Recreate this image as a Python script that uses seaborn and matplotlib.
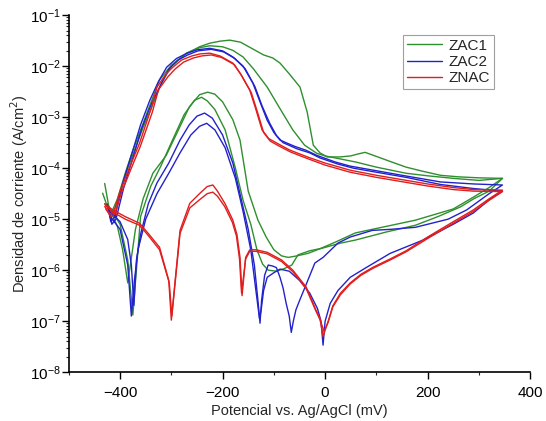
import numpy as np
import pandas as pd
import matplotlib
matplotlib.use("Agg")
import matplotlib.pyplot as plt
from matplotlib.ticker import FixedLocator, LogLocator, MultipleLocator, NullFormatter
import seaborn as sns

# potential (mV vs Ag/AgCl) and log10 current density (A/cm2)
# ZAC1, run A
zac1_a_E = [-434, -425, -418, -405, -390, -375, -362, -345, -323, -300, -270, -245, -225, -205, -186, -165,
            -147, -120, -102, -88, -70, -49, -35, -23, -10, 4, 29, 50, 65, 78, 100, 130, 158, 190, 225, 260, 300, 346,
            320, 289, 250, 176, 120, 59, 20, -10, -33, -55, -72, -85, -100, -115, -131, -150, -166, -180, -200, -215,
            -229, -245, -265, -289, -310, -336, -355, -370, -385, -395, -405, -418, -430]
zac1_a_logi = [-4.49, -4.75, -4.9, -4.6, -4.1, -3.65, -3.31, -2.85, -2.27, -1.98, -1.75, -1.62, -1.55, -1.51, -1.49, -1.53,
               -1.63, -1.78, -1.84, -1.94, -2.15, -2.41, -2.9, -3.55, -3.7, -3.78, -3.78, -3.76, -3.72, -3.69, -3.77, -3.88, -3.98, -4.06, -4.14, -4.17, -4.19, -4.2,
               -4.38, -4.57, -4.8, -5.02, -5.14, -5.27, -5.45, -5.58, -5.67, -5.72, -5.75, -5.72, -5.6, -5.35, -5.02, -4.45, -3.45, -3.05, -2.7, -2.55,
               -2.51, -2.56, -2.8, -3.31, -3.75, -4.1, -4.6, -5.2, -6.25, -5.6, -5.15, -4.85, -4.7]

# ZAC1, run B
zac1_b_E = [-430, -422, -415, -400, -385, -370, -355, -340, -320, -300, -270, -245, -225, -200, -180, -160, -140,
            -113, -90, -63, -40, -16, 0, 30, 60, 100, 158, 200, 250, 300, 346,
            320, 290, 264, 220, 176, 120, 59, 30, -6, -30, -53, -65, -80, -95, -111, -122, -133, -145, -160, -175,
            -195, -215, -230, -241, -255, -275, -300, -320, -340, -360, -375, -385, -400, -415, -425]
zac1_b_logi = [-4.3, -4.75, -4.95, -4.5, -4.0, -3.6, -3.2, -2.85, -2.35, -2.0, -1.74, -1.64, -1.6, -1.62, -1.69, -1.82, -2.05,
               -2.41, -2.8, -3.25, -3.55, -3.71, -3.76, -3.82, -3.88, -3.98, -4.1, -4.15, -4.2, -4.24, -4.2,
               -4.45, -4.6, -4.76, -4.95, -5.12, -5.25, -5.41, -5.47, -5.57, -5.62, -5.7, -5.9, -5.97, -6.02, -6.0, -5.88, -5.6, -5.1, -4.63, -4.0,
               -3.25, -2.85, -2.68, -2.61, -2.67, -2.95, -3.5, -3.95, -4.35, -4.95, -6.88, -5.8, -5.1, -4.85, -4.75]

# ZAC2, run A
zac2_a_E = [-425, -418, -410, -395, -375, -360, -342, -325, -309, -290, -270, -250, -225, -200, -180, -160, -141,
            -127, -113, -100, -88, -60, -37, -16, 20, 49, 94, 150, 225, 290, 346,
            320, 276, 240, 176, 127, 92, 49, 25, -4, -20, -39, -50, -57, -62, -66, -70, -76, -82, -88, -95, -102,
            -111, -118, -124, -127, -131, -138, -150, -165, -180, -200, -220, -235, -250, -265, -283, -305, -328,
            -345, -360, -368, -373, -378, -385, -400, -415, -422]
zac2_a_logi = [-4.7, -5.05, -4.95, -4.3, -3.65, -3.15, -2.67, -2.3, -2.02, -1.85, -1.75, -1.68, -1.65, -1.7, -1.82, -2.0, -2.33,
               -2.7, -3.06, -3.3, -3.45, -3.57, -3.65, -3.75, -3.88, -3.96, -4.04, -4.14, -4.27, -4.31, -4.33,
               -4.5, -4.82, -5.0, -5.16, -5.2, -5.22, -5.35, -5.47, -5.75, -5.86, -6.33, -6.6, -6.78, -7.0, -7.22, -6.9, -6.65, -6.35, -6.14, -5.95, -5.92,
               -5.9, -6.1, -6.6, -7.04, -6.6, -5.9, -5.2, -4.55, -3.9, -3.35, -3.02, -2.92, -2.98, -3.15, -3.45, -3.9, -4.29,
               -4.7, -5.3, -5.8, -6.69, -5.9, -5.4, -5.05, -4.9, -4.85]

# ZAC2, run B
zac2_b_E = [-422, -416, -408, -392, -372, -357, -338, -320, -305, -287, -268, -248, -222, -198, -176, -156, -137,
            -123, -108, -95, -82, -55, -30, -10, 25, 55, 100, 158, 225, 290, 346,
            320, 289, 250, 191, 127, 80, 49, 25, 10, 0, -4, -8, -15, -30, -50, -70, -88, -100, -113, -120, -125,
            -128, -135, -145, -160, -175, -195, -215, -231, -245, -262, -283, -305, -328, -350, -365, -372, -378,
            -385, -400, -415, -420]
zac2_b_logi = [-4.75, -5.1, -5.0, -4.35, -3.7, -3.2, -2.72, -2.35, -2.06, -1.88, -1.78, -1.7, -1.67, -1.72, -1.85, -2.05, -2.4,
               -2.78, -3.12, -3.36, -3.5, -3.62, -3.7, -3.8, -3.92, -4.0, -4.08, -4.18, -4.32, -4.4, -4.45,
               -4.62, -4.88, -5.1, -5.41, -5.67, -5.95, -6.14, -6.4, -6.65, -7.0, -7.47, -7.0, -6.75, -6.45, -6.2, -6.02, -5.98, -6.05, -6.14, -6.4, -6.8,
               -6.95, -6.4, -5.6, -4.85, -4.2, -3.6, -3.25, -3.12, -3.18, -3.35, -3.7, -4.1, -4.5, -5.0, -5.6, -6.2, -6.9,
               -5.9, -5.2, -5.0, -4.95]

# ZNAC, run A
znac_a_E = [-430, -420, -412, -400, -380, -362, -340, -328, -310, -297, -280, -260, -244, -225, -205, -180, -165,
            -147, -135, -123, -110, -94, -70, -50, -29, 0, 49, 100, 147, 200, 250, 289, 346,
            320, 289, 250, 200, 158, 127, 94, 70, 49, 30, 15, 6, -4, -10, -18, -37, -63, -85, -113, -135, -147, -155,
            -162, -166, -172, -180, -195, -210, -219, -230, -245, -264, -283, -300, -305, -323, -345, -362, -390,
            -414, -430]
znac_a_logi = [-4.75, -4.9, -4.85, -4.45, -3.95, -3.51, -2.85, -2.41, -2.15, -2.02, -1.88, -1.8, -1.76, -1.745, -1.8, -1.94, -2.15,
               -2.47, -2.85, -3.25, -3.42, -3.51, -3.64, -3.72, -3.8, -3.9, -4.04, -4.14, -4.22, -4.31, -4.38, -4.42, -4.43,
               -4.6, -4.82, -5.05, -5.35, -5.62, -5.78, -5.94, -6.08, -6.25, -6.45, -6.7, -7.0, -7.3, -6.95, -6.78, -6.33, -6.0, -5.8, -5.65, -5.6, -5.6, -5.75,
               -6.5, -5.75, -5.3, -5.02, -4.7, -4.45, -4.33, -4.36, -4.5, -4.69, -5.22, -6.98, -6.2, -5.55, -5.28, -5.08, -4.95,
               -4.82, -4.7]

# ZNAC, run B
znac_b_E = [-428, -418, -410, -398, -378, -360, -337, -325, -306, -293, -276, -257, -241, -222, -202, -177, -162,
            -144, -132, -120, -107, -91, -68, -48, -27, 0, 49, 100, 147, 200, 250, 289, 346,
            320, 289, 250, 200, 158, 127, 94, 70, 49, 30, 15, 6, -2, -10, -18, -37, -63, -85, -113, -135, -147, -155,
            -163, -167, -173, -181, -196, -210, -219, -230, -245, -264, -283, -299, -304, -323, -345, -362, -390,
            -414, -428]
znac_b_logi = [-4.8, -4.95, -4.9, -4.5, -4.0, -3.56, -2.9, -2.46, -2.2, -2.06, -1.92, -1.84, -1.8, -1.78, -1.83, -1.97, -2.2,
               -2.52, -2.9, -3.3, -3.47, -3.56, -3.68, -3.76, -3.84, -3.94, -4.08, -4.18, -4.26, -4.35, -4.42, -4.45, -4.46,
               -4.63, -4.85, -5.08, -5.38, -5.64, -5.8, -5.96, -6.1, -6.27, -6.48, -6.72, -7.02, -7.2, -6.97, -6.8, -6.36, -6.03, -5.83, -5.68, -5.63, -5.63, -5.78,
               -6.45, -5.78, -5.33, -5.06, -4.75, -4.55, -4.47, -4.5, -4.62, -4.78, -5.28, -6.9, -6.25, -5.6, -5.32, -5.12, -5.0,
               -4.86, -4.74]

y_ticks = [1e-8, 1e-7, 1e-6, 1e-5, 1e-4, 1e-3, 1e-2, 1e-1]

curves = [
    ("ZAC1", "A", zac1_a_E, zac1_a_logi),
    ("ZAC1", "B", zac1_b_E, zac1_b_logi),
    ("ZAC2", "A", zac2_a_E, zac2_a_logi),
    ("ZAC2", "B", zac2_b_E, zac2_b_logi),
    ("ZNAC", "A", znac_a_E, znac_a_logi),
    ("ZNAC", "B", znac_b_E, znac_b_logi),
]

frames = []
for sample, run, E, logi in curves:
    frames.append(pd.DataFrame({
        "E": E,
        "i": 10.0 ** np.array(logi),
        "sample": sample,
        "run": sample + run,
    }))
df = pd.concat(frames, ignore_index=True)

sns.set_style("ticks")
plt.rcParams["font.family"] = ["Liberation Sans", "DejaVu Sans"]

fig = plt.figure(figsize=(5.46, 4.21), dpi=100)
ax = fig.add_axes([0.126, 0.116, 0.845, 0.848])

palette = {"ZAC1": "#2f8f2f", "ZAC2": "#2222cc", "ZNAC": "#e01e1e"}
sns.lineplot(data=df, x="E", y="i", hue="sample", units="run", estimator=None,
             sort=False, palette=palette, linewidth=1.0, ax=ax)

ax.set_yscale("log")
ax.set_xlim(-500, 400)
ax.set_ylim(1e-8, 1e-1)
ax.xaxis.set_major_locator(MultipleLocator(200))
ax.xaxis.set_minor_locator(MultipleLocator(100))
ax.yaxis.set_major_locator(FixedLocator(y_ticks))
ax.yaxis.set_minor_locator(LogLocator(base=10, subs=np.arange(2, 10), numticks=20))
ax.yaxis.set_minor_formatter(NullFormatter())
ax.tick_params(axis="both", which="major", direction="out", length=5, width=1, labelsize=11, colors="black")
ax.tick_params(axis="x", which="major", pad=5)
ax.tick_params(axis="y", which="major", pad=1)
ax.tick_params(axis="both", which="minor", direction="out", length=2.5, width=0.8)
for s in ["left", "bottom"]:
    ax.spines[s].set_color("black")
    ax.spines[s].set_linewidth(1.2)
sns.despine(ax=ax)

ax.set_xlabel("Potencial vs. Ag/AgCl (mV)", fontsize=10.5, labelpad=3)
ax.set_ylabel("Densidad de corriente (A/cm$^2$)", fontsize=10.5)
ax.yaxis.set_label_coords(-0.085, 0.5)

leg = ax.legend(loc="upper left", bbox_to_anchor=(0.725, 0.945), frameon=True, fancybox=False,
                handlelength=2.3, fontsize=11, borderpad=0.25, labelspacing=0.15, handletextpad=0.4,
                borderaxespad=0)
leg.get_frame().set_edgecolor("#888888")
leg.get_frame().set_linewidth(0.8)

fig.savefig("out.png", dpi=100)
